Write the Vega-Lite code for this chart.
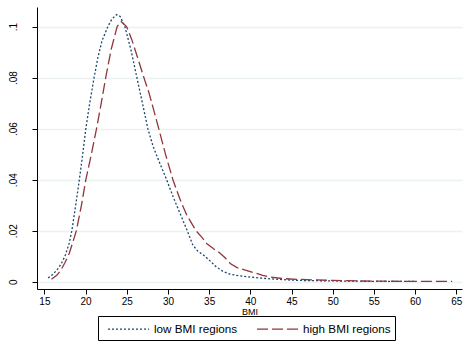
{
  "$schema": "https://vega.github.io/schema/vega-lite/v6.json",
  "width": 425,
  "height": 282,
  "autosize": {"type": "none"},
  "padding": {"left": 37, "top": 7, "right": 2, "bottom": 58},
  "background": "white",
  "config": {
    "view": {"stroke": null},
    "font": "Liberation Sans",
    "axis": {"labelFont": "Liberation Sans", "titleFont": "Liberation Sans", "labelColor": "#000", "titleColor": "#000", "domainColor": "#000", "tickColor": "#000", "labelFontSize": 10, "titleFontWeight": "normal"},
    "legend": {"labelFont": "Liberation Sans"}
  },
  "data": {
    "values": [
      {"bmi": 15.45, "d": 0.0015, "g": "low BMI regions"},
      {"bmi": 16.0, "d": 0.0028, "g": "low BMI regions"},
      {"bmi": 16.5, "d": 0.0045, "g": "low BMI regions"},
      {"bmi": 17.0, "d": 0.0068, "g": "low BMI regions"},
      {"bmi": 17.5, "d": 0.0100, "g": "low BMI regions"},
      {"bmi": 18.0, "d": 0.0150, "g": "low BMI regions"},
      {"bmi": 18.33, "d": 0.0200, "g": "low BMI regions"},
      {"bmi": 18.8, "d": 0.0300, "g": "low BMI regions"},
      {"bmi": 19.24, "d": 0.0400, "g": "low BMI regions"},
      {"bmi": 19.65, "d": 0.0500, "g": "low BMI regions"},
      {"bmi": 20.03, "d": 0.0600, "g": "low BMI regions"},
      {"bmi": 20.5, "d": 0.0700, "g": "low BMI regions"},
      {"bmi": 21.03, "d": 0.0800, "g": "low BMI regions"},
      {"bmi": 21.5, "d": 0.0880, "g": "low BMI regions"},
      {"bmi": 22.0, "d": 0.0945, "g": "low BMI regions"},
      {"bmi": 22.7, "d": 0.1000, "g": "low BMI regions"},
      {"bmi": 23.2, "d": 0.1030, "g": "low BMI regions"},
      {"bmi": 23.76, "d": 0.1047, "g": "low BMI regions"},
      {"bmi": 24.2, "d": 0.1040, "g": "low BMI regions"},
      {"bmi": 24.77, "d": 0.1000, "g": "low BMI regions"},
      {"bmi": 25.5, "d": 0.0910, "g": "low BMI regions"},
      {"bmi": 26.23, "d": 0.0800, "g": "low BMI regions"},
      {"bmi": 26.9, "d": 0.0700, "g": "low BMI regions"},
      {"bmi": 27.56, "d": 0.0600, "g": "low BMI regions"},
      {"bmi": 28.2, "d": 0.0530, "g": "low BMI regions"},
      {"bmi": 29.0, "d": 0.0465, "g": "low BMI regions"},
      {"bmi": 29.84, "d": 0.0400, "g": "low BMI regions"},
      {"bmi": 30.6, "d": 0.0335, "g": "low BMI regions"},
      {"bmi": 31.5, "d": 0.0265, "g": "low BMI regions"},
      {"bmi": 32.34, "d": 0.0200, "g": "low BMI regions"},
      {"bmi": 33.0, "d": 0.0145, "g": "low BMI regions"},
      {"bmi": 33.6, "d": 0.0120, "g": "low BMI regions"},
      {"bmi": 34.3, "d": 0.0105, "g": "low BMI regions"},
      {"bmi": 35.0, "d": 0.0085, "g": "low BMI regions"},
      {"bmi": 35.8, "d": 0.0060, "g": "low BMI regions"},
      {"bmi": 36.7, "d": 0.0040, "g": "low BMI regions"},
      {"bmi": 37.5, "d": 0.0030, "g": "low BMI regions"},
      {"bmi": 38.5, "d": 0.0024, "g": "low BMI regions"},
      {"bmi": 39.7, "d": 0.0019, "g": "low BMI regions"},
      {"bmi": 41.0, "d": 0.0015, "g": "low BMI regions"},
      {"bmi": 42.5, "d": 0.0011, "g": "low BMI regions"},
      {"bmi": 44.0, "d": 0.0008, "g": "low BMI regions"},
      {"bmi": 46.0, "d": 0.0005, "g": "low BMI regions"},
      {"bmi": 48.0, "d": 0.0004, "g": "low BMI regions"},
      {"bmi": 50.0, "d": 0.0003, "g": "low BMI regions"},
      {"bmi": 53.0, "d": 0.0002, "g": "low BMI regions"},
      {"bmi": 56.0, "d": 0.0001, "g": "low BMI regions"},
      {"bmi": 60.0, "d": 0.0001, "g": "low BMI regions"},
      {"bmi": 15.86, "d": 0.0010, "g": "high BMI regions"},
      {"bmi": 16.5, "d": 0.0025, "g": "high BMI regions"},
      {"bmi": 17.0, "d": 0.0045, "g": "high BMI regions"},
      {"bmi": 17.5, "d": 0.0075, "g": "high BMI regions"},
      {"bmi": 18.0, "d": 0.0110, "g": "high BMI regions"},
      {"bmi": 18.5, "d": 0.0160, "g": "high BMI regions"},
      {"bmi": 18.88, "d": 0.0200, "g": "high BMI regions"},
      {"bmi": 19.5, "d": 0.0300, "g": "high BMI regions"},
      {"bmi": 20.03, "d": 0.0400, "g": "high BMI regions"},
      {"bmi": 20.7, "d": 0.0500, "g": "high BMI regions"},
      {"bmi": 21.33, "d": 0.0600, "g": "high BMI regions"},
      {"bmi": 21.9, "d": 0.0700, "g": "high BMI regions"},
      {"bmi": 22.44, "d": 0.0800, "g": "high BMI regions"},
      {"bmi": 23.1, "d": 0.0910, "g": "high BMI regions"},
      {"bmi": 23.83, "d": 0.1000, "g": "high BMI regions"},
      {"bmi": 24.3, "d": 0.1020, "g": "high BMI regions"},
      {"bmi": 24.98, "d": 0.1000, "g": "high BMI regions"},
      {"bmi": 25.6, "d": 0.0950, "g": "high BMI regions"},
      {"bmi": 26.3, "d": 0.0880, "g": "high BMI regions"},
      {"bmi": 27.08, "d": 0.0800, "g": "high BMI regions"},
      {"bmi": 27.7, "d": 0.0740, "g": "high BMI regions"},
      {"bmi": 28.3, "d": 0.0670, "g": "high BMI regions"},
      {"bmi": 28.88, "d": 0.0600, "g": "high BMI regions"},
      {"bmi": 29.7, "d": 0.0500, "g": "high BMI regions"},
      {"bmi": 30.6, "d": 0.0400, "g": "high BMI regions"},
      {"bmi": 31.5, "d": 0.0320, "g": "high BMI regions"},
      {"bmi": 32.3, "d": 0.0260, "g": "high BMI regions"},
      {"bmi": 33.4, "d": 0.0200, "g": "high BMI regions"},
      {"bmi": 34.1, "d": 0.0175, "g": "high BMI regions"},
      {"bmi": 34.7, "d": 0.0150, "g": "high BMI regions"},
      {"bmi": 35.5, "d": 0.0130, "g": "high BMI regions"},
      {"bmi": 36.2, "d": 0.0115, "g": "high BMI regions"},
      {"bmi": 36.9, "d": 0.0095, "g": "high BMI regions"},
      {"bmi": 37.6, "d": 0.0070, "g": "high BMI regions"},
      {"bmi": 38.4, "d": 0.0055, "g": "high BMI regions"},
      {"bmi": 39.4, "d": 0.0045, "g": "high BMI regions"},
      {"bmi": 40.5, "d": 0.0035, "g": "high BMI regions"},
      {"bmi": 41.5, "d": 0.0025, "g": "high BMI regions"},
      {"bmi": 42.5, "d": 0.0018, "g": "high BMI regions"},
      {"bmi": 44.0, "d": 0.0012, "g": "high BMI regions"},
      {"bmi": 46.0, "d": 0.0009, "g": "high BMI regions"},
      {"bmi": 48.0, "d": 0.0007, "g": "high BMI regions"},
      {"bmi": 50.0, "d": 0.0005, "g": "high BMI regions"},
      {"bmi": 53.0, "d": 0.0003, "g": "high BMI regions"},
      {"bmi": 56.0, "d": 0.0002, "g": "high BMI regions"},
      {"bmi": 60.0, "d": 0.0001, "g": "high BMI regions"},
      {"bmi": 64.5, "d": 0.0001, "g": "high BMI regions"}
    ]
  },
  "mark": {"type": "line", "strokeWidth": 1.3, "clip": true},
  "encoding": {
    "x": {
      "field": "bmi", "type": "quantitative",
      "scale": {"domain": [14.1, 65.7], "nice": false, "zero": false},
      "axis": {"values": [15, 20, 25, 30, 35, 40, 45, 50, 55, 60, 65], "grid": false, "title": "BMI", "titleFontSize": 9, "titlePadding": 1, "tickSize": 5, "labelPadding": 2, "domainWidth": 1}
    },
    "y": {
      "field": "d", "type": "quantitative",
      "scale": {"domain": [-0.00286, 0.1077], "nice": false, "zero": false},
      "axis": {"values": [0, 0.02, 0.04, 0.06, 0.08, 0.1], "title": null, "grid": true, "gridColor": "#eaf2f3", "gridWidth": 1.5, "labelAngle": -90, "labelAlign": "center", "labelBaseline": "bottom", "labelPadding": 14, "tickSize": 5, "domainWidth": 1,
        "labelExpr": "datum.value == 0 ? '0' : replace(format(datum.value, '.2~f'), '0.', '.')"}
    },
    "color": {
      "field": "g", "type": "nominal",
      "scale": {"domain": ["low BMI regions", "high BMI regions"], "range": ["#1a476f", "#90353b"]},
      "legend": {"title": null, "orient": "none", "legendX": 61, "legendY": 309, "direction": "horizontal", "columns": 2, "strokeColor": "#000", "fillColor": "white", "padding": 4, "symbolType": "M-0.375,0H4.75", "symbolSize": 256, "symbolStrokeWidth": 1.3, "labelFontSize": 11.7, "labelColor": "#000", "columnPadding": 13, "labelOffset": 34}
    },
    "strokeDash": {
      "field": "g", "type": "nominal",
      "scale": {"domain": ["low BMI regions", "high BMI regions"], "range": [[2, 2], [11, 4]]},
      "legend": null
    }
  }
}
